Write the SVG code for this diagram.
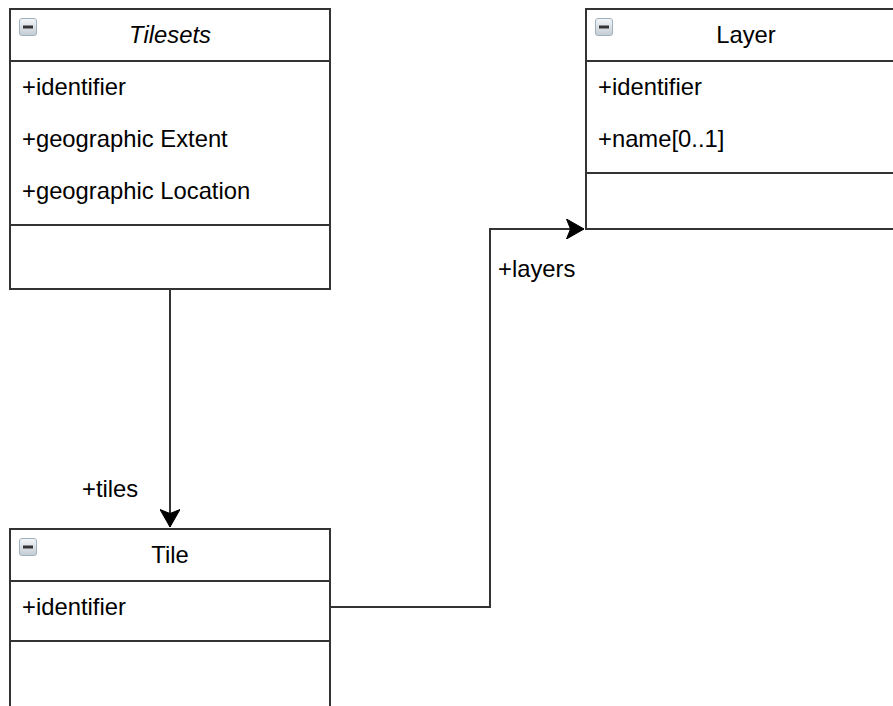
<svg xmlns="http://www.w3.org/2000/svg" width="893" height="706" viewBox="0 0 893 706">
  <defs>
    <linearGradient id="iconGrad" x1="0" y1="0" x2="0" y2="1">
      <stop offset="0" stop-color="#f4f6f8"/>
      <stop offset="1" stop-color="#c4ccd4"/>
    </linearGradient>
    <marker id="arrow" viewBox="0 0 20 20" refX="18" refY="10" markerWidth="20" markerHeight="20" markerUnits="userSpaceOnUse" orient="auto">
      <path d="M18,10 L0.5,0 L4.5,10 L0.5,20 Z" fill="#000" stroke="#000" stroke-width="1"/>
    </marker>
    <g id="collapse">
      <rect x="0.5" y="0.5" width="17" height="17" rx="2.5" ry="2.5" fill="url(#iconGrad)" stroke="#9fb0bf" stroke-width="1"/>
      <rect x="4" y="7.5" width="10" height="3" fill="#333"/>
    </g>
  </defs>
  <style>
    .box { fill: #ffffff; stroke: #333333; stroke-width: 2; }
    .sep { stroke: #333333; stroke-width: 2; fill: none; }
    .edge { stroke: #333333; stroke-width: 2; fill: none; }
    text { font-family: "Liberation Sans", Arial, sans-serif; font-size: 23.8px; fill: #000000; }
    .title { text-anchor: middle; }
    .italic { font-style: italic; }
  </style>
  <rect width="893" height="706" fill="#ffffff"/>

  <g id="connectors">
    <path class="edge" d="M170,289 L170,527" marker-end="url(#arrow)"/>
    <path class="edge" d="M330,607 L490,607 L490,229 L584,229" marker-end="url(#arrow)"/>
    <text x="82" y="497">+tiles</text>
    <text x="498" y="277">+layers</text>
  </g>

  <g id="tilesets">
    <rect class="box" x="10" y="9" width="320" height="280"/>
    <line class="sep" x1="10" y1="61" x2="330" y2="61"/>
    <line class="sep" x1="10" y1="225" x2="330" y2="225"/>
    <use href="#collapse" x="19" y="18"/>
    <text class="title italic" x="170" y="43">Tilesets</text>
    <text x="22" y="95">+identifier</text>
    <text x="22" y="147">+geographic Extent</text>
    <text x="22" y="199">+geographic Location</text>
  </g>

  <g id="layer">
    <rect class="box" x="586" y="9" width="330" height="220"/>
    <line class="sep" x1="586" y1="61" x2="916" y2="61"/>
    <line class="sep" x1="586" y1="173" x2="916" y2="173"/>
    <use href="#collapse" x="595" y="18"/>
    <text class="title" x="746" y="43">Layer</text>
    <text x="598" y="95">+identifier</text>
    <text x="598" y="147">+name[0..1]</text>
  </g>

  <g id="tile">
    <rect class="box" x="10" y="529" width="320" height="220"/>
    <line class="sep" x1="10" y1="581" x2="330" y2="581"/>
    <line class="sep" x1="10" y1="641" x2="330" y2="641"/>
    <use href="#collapse" x="19" y="538"/>
    <text class="title" x="170" y="563">Tile</text>
    <text x="22" y="615">+identifier</text>
  </g>
</svg>
